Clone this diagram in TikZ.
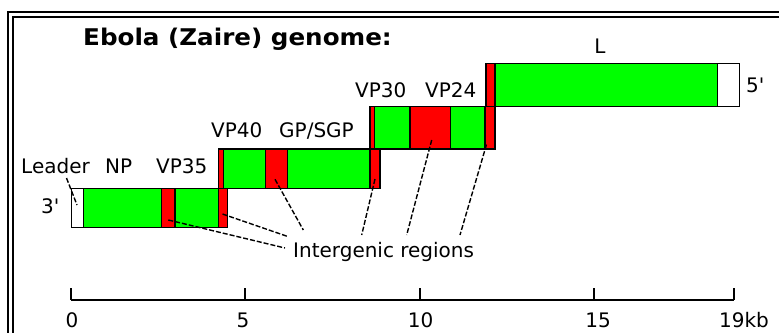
\documentclass[tikz,border=0pt]{standalone}
\usepackage{fontspec}
\setmainfont{DejaVu Sans}
\definecolor{gr}{RGB}{0,255,0}
\definecolor{rd}{RGB}{255,0,0}
\begin{document}
\begin{tikzpicture}[x=1pt,y=-1pt,
  seg/.style={draw=black,line width=1.3pt},
  gseg/.style={seg,fill=gr},
  rseg/.style={seg,fill=rd},
  wseg/.style={seg,fill=white},
  lbl/.style={inner sep=0pt,anchor=base west,font=\fontsize{20}{24}\selectfont},
  clbl/.style={lbl,anchor=base},
  lead/.style={draw=black,line width=1.4pt,dash pattern=on 5pt off 2pt},
  frameline/.style={draw=black,line width=1.7pt},
  axisline/.style={draw=black,line width=1.4pt}]
\useasboundingbox (0,0) rectangle (779,332);
\clip (0,0) rectangle (779,332);
\fill[white] (0,0) rectangle (779,332);
% frame
\draw[frameline] (7.8,340) -- (7.8,11.8) -- (790,11.8);
\draw[frameline] (12.8,340) -- (12.8,16.8) -- (790,16.8);
% title
\node[inner sep=0pt,anchor=base west,font=\bfseries\fontsize{23}{27}\selectfont] (title) at (83,45.5) {\scalebox{1.07}[1]{Ebola (Zaire) genome:}};
% row 1
\path[wseg] (71.7,188.3) rectangle (83.3,227.5);
\path[gseg] (83.3,188.3) rectangle (161.7,227.5);
\path[rseg] (161.7,188.3) rectangle (175,227.5);
\path[gseg] (175,188.3) rectangle (218.3,227.5);
\path[rseg] (218.3,188.3) rectangle (227.7,227.5);
% row 2
\path[rseg] (218.3,149) rectangle (223.5,188.3);
\path[gseg] (223.5,149) rectangle (265.7,188.3);
\path[rseg] (265.7,149) rectangle (287.3,188.3);
\path[gseg] (287.3,149) rectangle (370,188.3);
\path[rseg] (370,149) rectangle (380,188.3);
% row 3
\path[rseg] (370,106.5) rectangle (374.5,149);
\path[gseg] (374.5,106.5) rectangle (410,149);
\path[rseg] (410,106.5) rectangle (450.7,149);
\path[gseg] (450.7,106.5) rectangle (485,149);
\path[rseg] (485,106.5) rectangle (495,149);
% row 4
\path[rseg] (486,63.5) rectangle (495,106.5);
\path[gseg] (495,63.5) rectangle (717.3,106.5);
\path[wseg] (717.3,63.5) rectangle (739.3,106.5);
% labels
\node[lbl] (leader) at (21,173) {Leader};
\node[lbl] (np) at (105,173) {NP};
\node[lbl] (vp35) at (156,173) {VP35};
\node[lbl] (three) at (41,213) {3\textquotesingle};
\node[lbl] (vp40) at (211,137) {VP40};
\node[lbl] (gp) at (279,137) {GP/SGP};
\node[lbl] (vp30) at (355,97) {VP30};
\node[lbl] (vp24) at (425,97) {VP24};
\node[clbl] (L) at (600,53) {L};
\node[lbl] (five) at (746,92) {5\textquotesingle};
\node[lbl] (ig) at (293,257) {Intergenic regions};
% leader lines
\coordinate (ld1) at (66.5,178);
\coordinate (ld2) at (77,205);
\draw[lead] (ld1) -- (ld2);
\coordinate (a1) at (168.3,220);   \coordinate (b1) at (285,248);
\coordinate (a2) at (222.5,214);   \coordinate (b2) at (288.3,236.7);
\coordinate (a3) at (275,179.3);   \coordinate (b3) at (303.3,230);
\coordinate (a4) at (375,179);     \coordinate (b4) at (361.7,235);
\coordinate (a5) at (431.7,140);   \coordinate (b5) at (406.7,235);
\coordinate (a6) at (486.5,144.5); \coordinate (b6) at (460,235);
\foreach \i in {1,...,6} {\draw[lead] (a\i) -- (b\i);}
% axis
\coordinate (ax0) at (71,300);
\coordinate (ax19) at (734,300);
\draw[axisline] (ax0) -- (ax19);
\foreach \x in {71,245,420,594,734} {\draw[axisline] (\x,288.3) -- (\x,300);}
\node[clbl] (t0) at (72,327) {0};
\node[clbl] (t5) at (243,327) {5};
\node[clbl] (t10) at (420.5,327) {10};
\node[clbl] (t15) at (598,327) {15};
\node[lbl] (t19) at (719,327) {19kb};
\end{tikzpicture}
\end{document}
